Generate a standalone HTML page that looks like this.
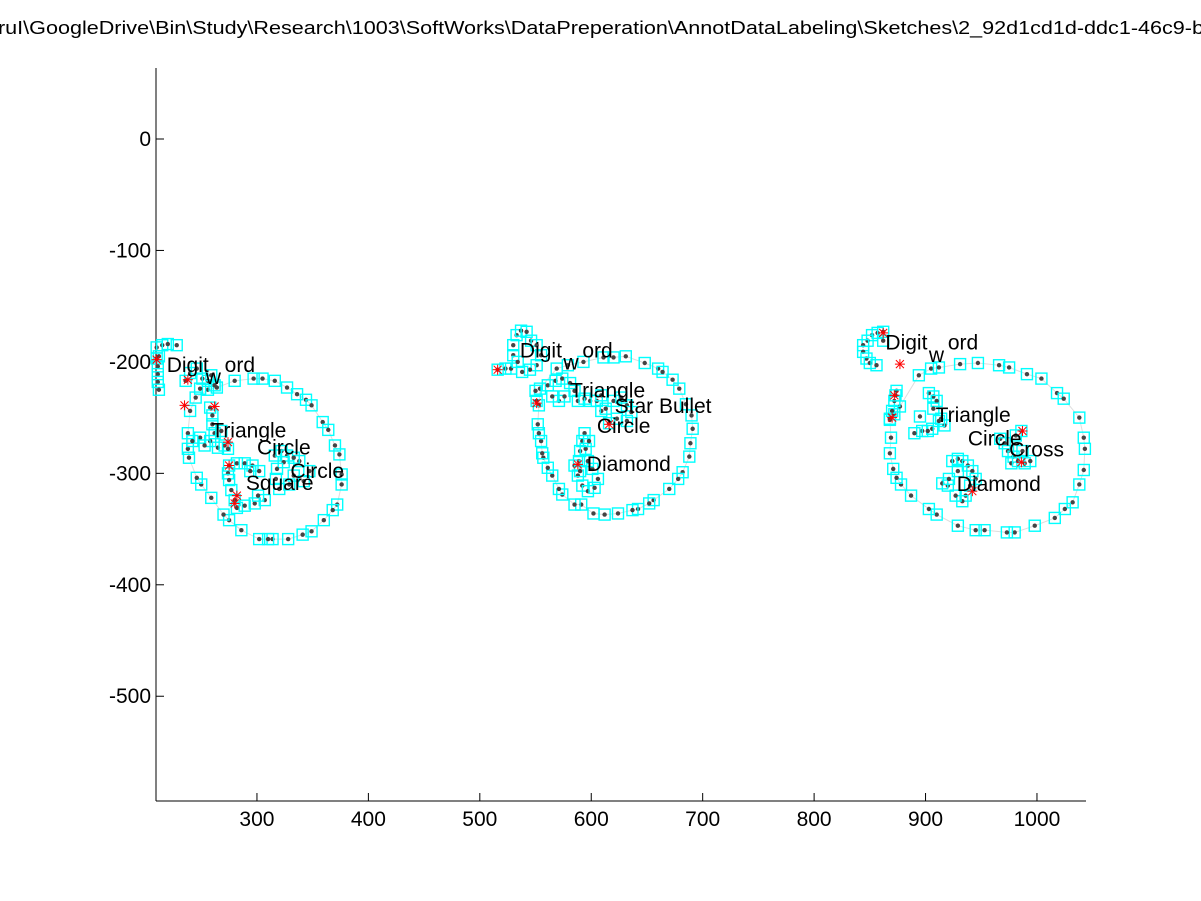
<!DOCTYPE html>
<html><head><meta charset="utf-8"><style>
html,body{margin:0;padding:0;background:#fff;}
svg{display:block;font-family:"Liberation Sans",Arial,sans-serif;}
</style></head><body>
<svg id="chart" width="1201" height="901" viewBox="0 0 1201 901">
<rect width="1201" height="901" fill="#fff"/>
<text x="-2" y="34" font-size="18" textLength="1206" lengthAdjust="spacingAndGlyphs">ruI\GoogleDrive\Bin\Study\Research\1003\SoftWorks\DataPreperation\AnnotDataLabeling\Sketches\2_92d1cd1d-ddc1-46c9-b</text>
<g id="axes"></g>
<g id="marks"></g>
<g id="labels"></g>
</svg>
<script>
const xTicks=[300,400,500,600,700,800,900,1000];
const yTicks=[0,-100,-200,-300,-400,-500];
const ring1=[[280,-217],[297,-215],[305,-215],[316,-217],[327,-223],[336,-229],[344,-234],[349,-239],[359,-254],[364,-261],[370,-275],[374,-283],[376,-301],[376,-310],[372,-328],[368,-333],[360,-342],[349,-352],[341,-355],[328,-359],[314,-359],[310,-359],[302,-359],[286,-351],[275,-342],[270,-337],[259,-322],[250,-310],[246,-304],[239,-286],[238,-278],[238,-264],[240,-244],[245,-232],[256,-225],[264,-223]];
const ring2=[[593,-200],[611,-196],[620,-196],[631,-195],[648,-201],[660,-206],[664,-209],[673,-216],[679,-224],[685,-238],[690,-248],[691,-260],[689,-273],[688,-285],[682,-299],[678,-305],[670,-314],[656,-324],[652,-327],[642,-332],[637,-333],[624,-336],[612,-337],[602,-336],[591,-328],[585,-328],[574,-319],[571,-314],[565,-302],[561,-295],[557,-286],[556,-282],[555,-271],[553,-264],[552,-256],[553,-239],[554,-224],[569,-206],[579,-203]];
const ring3=[[894,-212],[905,-206],[912,-205],[931,-202],[947,-201],[966,-203],[975,-205],[991,-211],[1004,-215],[1018,-228],[1024,-233],[1038,-250],[1042,-268],[1043,-278],[1042,-297],[1038,-310],[1032,-326],[1025,-332],[1016,-340],[998,-347],[980,-353],[973,-353],[953,-351],[945,-351],[929,-347],[910,-337],[903,-332],[887,-320],[878,-310],[874,-304],[871,-296],[868,-282],[869,-268],[868,-252],[872,-247],[877,-240]];
const clusters=[
[[210,-187],[210,-197],[211,-204],[211,-211],[211,-218],[212,-225],[215,-185],[220,-184],[228,-185],[212,-195]],
[[240,-210],[246,-206],[251,-215],[256,-217],[259,-212],[249,-224],[262,-221],[236,-217]],
[[258,-241],[260,-248],[260,-256],[262,-264],[258,-271],[249,-268],[242,-271],[253,-275],[265,-277],[271,-275],[274,-278],[268,-262]],
[[275,-293],[282,-291],[289,-291],[296,-293],[302,-298],[274,-300],[275,-306],[277,-315],[280,-324],[282,-331],[289,-329],[298,-327],[307,-324],[301,-320],[294,-298]],
[[316,-284],[322,-280],[327,-284],[324,-290],[318,-296],[317,-305],[320,-314],[329,-310],[333,-302],[342,-307],[347,-298],[338,-289],[333,-286]],
[[516,-207],[523,-206],[528,-206],[530,-194],[530,-185],[533,-176],[537,-172],[542,-173],[546,-181],[551,-185],[555,-194],[551,-203],[545,-207],[538,-209],[534,-200]],
[[550,-226],[551,-235],[561,-221],[568,-217],[574,-215],[581,-219],[585,-226],[588,-235],[571,-235],[576,-231],[594,-233],[599,-235],[565,-231]],
[[605,-235],[609,-244],[613,-242],[620,-235],[627,-232],[632,-239],[636,-245],[623,-251],[616,-255],[632,-253],[609,-230]],
[[594,-264],[592,-271],[590,-280],[589,-289],[585,-293],[588,-302],[592,-311],[597,-316],[603,-313],[606,-305],[601,-296],[597,-289],[595,-278],[598,-271],[590,-298]],
[[852,-176],[857,-174],[862,-173],[848,-181],[844,-185],[844,-191],[847,-197],[850,-201],[856,-203],[862,-181]],
[[874,-226],[872,-235],[870,-244],[868,-251],[873,-230]],
[[903,-228],[907,-231],[910,-235],[907,-242],[914,-251],[917,-257],[906,-260],[897,-262],[890,-264],[902,-262],[912,-253],[895,-249]],
[[967,-269],[971,-273],[974,-280],[979,-285],[977,-291],[983,-289],[989,-291],[994,-289],[987,-280],[986,-262],[981,-266]],
[[924,-289],[929,-287],[933,-289],[938,-293],[942,-298],[945,-305],[940,-311],[936,-320],[933,-325],[927,-320],[920,-311],[915,-309],[921,-305],[929,-298]]
];
const stars=[[210,-198],[238,-216],[235,-239],[282,-320],[280,-327],[275,-293],[262,-240],[274,-272],[516,-207],[551,-237],[588,-292],[616,-256],[862,-174],[877,-202],[872,-230],[870,-250],[987,-262],[986,-290],[942,-316]];
const labelText=["Digit","w","ord","Triangle","Circle","Circle","Square","Digit","w","ord","Triangle","Star Bullet","Circle","Diamond","Digit","w","ord","Triangle","Circle","Cross","Diamond"];
const labelPos=[[219,-209],[254,-220],[271,-209],[259,-268],[300,-283],[330,-304],[290,-315],[536,-196],[575,-207],[592,-196],[581,-232],[621,-246],[605,-264],[596,-298],[864,-189],[903,-200],[920,-189],[909,-254],[938,-275],[975,-285],[928,-316]];

const X0=209.4,X1=1044,Y0=63.7,Y1=-594,L=156,R=1086,T=68,B=801;
const sx=v=>L+(v-X0)/(X1-X0)*(R-L);
const sy=v=>T+(Y0-v)/(Y0-Y1)*(B-T);
const NS="http://www.w3.org/2000/svg";
function mk(tag,attrs,parent){const e=document.createElementNS(NS,tag);for(const k in attrs)e.setAttribute(k,attrs[k]);parent.appendChild(e);return e;}
const axes=document.getElementById('axes'),marks=document.getElementById('marks'),labels=document.getElementById('labels');
let a=mk('line',{x1:L,y1:T,x2:L,y2:B,stroke:'#000'},axes);


a=mk('line',{x1:L,y1:B,x2:R,y2:B,stroke:'#000'},axes);


xTicks.forEach(t=>{const x=sx(t);
 const l=mk('line',{x1:x,y1:B,x2:x,y2:B-8,stroke:'#000'},axes);
 
 
 const tx=mk('text',{x:x,y:B+25,'font-size':21,'text-anchor':'middle'},axes);tx.textContent=t;
 
 });
yTicks.forEach(t=>{const y=sy(t);
 const l=mk('line',{x1:L,y1:y,x2:L+8,y2:y,stroke:'#000'},axes);
 
 
 const tx=mk('text',{x:L-5,y:y+7,'font-size':21,'text-anchor':'end'},axes);tx.textContent=t;
 
 });
function drawPoint(p,cls){const x=sx(p[0]),y=sy(p[1]);
 const r=mk('rect',{x:x-5.5,y:y-5.5,width:11,height:11,fill:'none',stroke:'#00ffff','stroke-width':1.4},marks);
 
 
 mk('circle',{cx:x,cy:y,r:2.2,fill:'#444'},marks);}
[ring1,ring2,ring3].forEach((ring,i)=>{
 const pl=mk('polyline',{points:ring.map(p=>sx(p[0])+','+sy(p[1])).join(' ')+' '+sx(ring[0][0])+','+sy(ring[0][1]),fill:'none',stroke:'#ddd','stroke-width':1},marks);
 
 
 ring.forEach(p=>drawPoint(p,'ring-point'));});
clusters.forEach(c=>c.forEach(p=>drawPoint(p,'cluster-point')));
stars.forEach(p=>{const x=sx(p[0]),y=sy(p[1]);
 const g=mk('g',{stroke:'#f00','stroke-width':1},marks);
 
 
 mk('line',{x1:x-5,y1:y,x2:x+5,y2:y},g);mk('line',{x1:x,y1:y-5,x2:x,y2:y+5},g);
 mk('line',{x1:x-4,y1:y-4,x2:x+4,y2:y+4},g);mk('line',{x1:x-4,y1:y+4,x2:x+4,y2:y-4},g);});
labelText.forEach((s,i)=>{const t=mk('text',{x:sx(labelPos[i][0]),y:sy(labelPos[i][1]),'font-size':21},labels);t.textContent=s;
 
 });
</script>
</body></html>
